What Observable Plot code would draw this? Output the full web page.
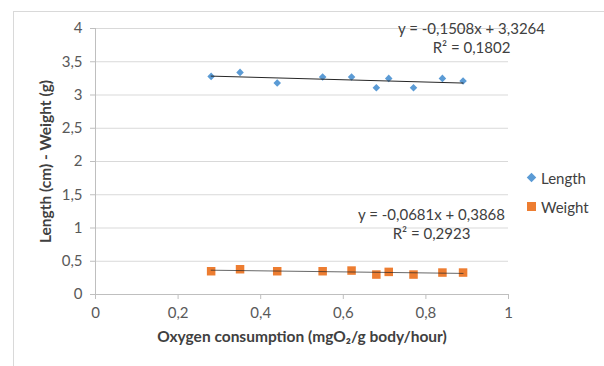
<!DOCTYPE html>
<html>
<head>
<meta charset="utf-8">
<script src="https://cdn.jsdelivr.net/npm/d3@7"></script>
<script src="https://cdn.jsdelivr.net/npm/@observablehq/plot@0.6"></script>
<style>
  html, body { margin: 0; padding: 0; background: #fff; }
  #wrap { position: relative; width: 604px; height: 366px; overflow: hidden; font-family: Lato, "Open Sans", sans-serif; }
  #frame { position: absolute; left: 13px; top: 11px; width: 700px; height: 500px; border-top: 1.5px solid #d9d9d9; border-left: 1.5px solid #d9d9d9; }
  #chart { position: absolute; left: 0; top: 0; }
  #legend { position: absolute; left: 527px; top: 163px; font-size: 15px; color: #404040; }
  #legend .item { display: flex; align-items: center; height: 29px; }
  #legend .sym { width: 9px; height: 9px; margin-right: 5px; }
  g[aria-label="y-axis label"], g[aria-label="x-axis label"] { font-weight: bold; font-size: 15.5px; }
  g[aria-label="y-axis label"] text, g[aria-label="x-axis label"] text { fill: #404040; }
</style>
</head>
<body>
<div id="wrap">
  <div id="frame"></div>
  <div id="chart"></div>
  <div id="legend"></div>
</div>
<script>
const oxygen = [0.28, 0.35, 0.44, 0.55, 0.62, 0.68, 0.71, 0.77, 0.84, 0.89];
const lengthCm = [3.28, 3.34, 3.18, 3.27, 3.27, 3.11, 3.25, 3.11, 3.25, 3.21];
const weightG = [0.35, 0.38, 0.35, 0.35, 0.36, 0.30, 0.34, 0.30, 0.33, 0.33];
const seriesNames = ["Length", "Weight"];
const seriesColors = ["#5b9bd5", "#ed7d31"];
const xTicks = [0, 0.2, 0.4, 0.6, 0.8, 1];
const yTicks = [0, 0.5, 1, 1.5, 2, 2.5, 3, 3.5, 4];
const lengthEquation = ["y = -0,1508x + 3,3264", "R² = 0,1802"];
const weightEquation = ["y = -0,0681x + 0,3868", "R² = 0,2923"];

const lengthData = oxygen.map((x, i) => ({x, y: lengthCm[i]}));
const weightData = oxygen.map((x, i) => ({x, y: weightG[i]}));
const comma = d => String(d).replace(".", ",");

const chart = Plot.plot({
  width: 604,
  height: 366,
  marginLeft: 95,
  marginRight: 96,
  marginTop: 28,
  marginBottom: 72,
  style: {fontFamily: "Lato, 'Open Sans', sans-serif", fontSize: "15px", color: "#595959", background: "transparent", overflow: "visible"},
  x: {domain: [0, 1]},
  y: {domain: [0, 4]},
  marks: [
    Plot.gridY(yTicks, {stroke: "#d9d9d9", strokeOpacity: 1}),
    Plot.ruleX([0], {stroke: "#bfbfbf"}),
    Plot.ruleY([0], {stroke: "#bfbfbf"}),
    Plot.axisY(yTicks, {tickSize: 5, tickPadding: 8, stroke: "#bfbfbf", tickFormat: comma, fill: "#595959",
      label: "Length (cm) - Weight (g)", labelAnchor: "center", labelArrow: "none", labelOffset: 56}),
    Plot.axisX(xTicks, {tickSize: 5, tickPadding: 8, stroke: "#bfbfbf", tickFormat: comma, fill: "#595959",
      label: "Oxygen consumption (mgO₂/g body/hour)", labelAnchor: "center", labelArrow: "none", labelOffset: 47}),
    Plot.dot(lengthData, {x: "x", y: "y", symbol: "diamond2", r: 3.4, fill: seriesColors[0], stroke: "none"}),
    Plot.dot(weightData, {x: "x", y: "y", symbol: "square", r: 4.8, fill: seriesColors[1], stroke: "none"}),
    Plot.linearRegressionY(lengthData, {x: "x", y: "y", ci: 0, stroke: "#262626", strokeWidth: 1}),
    Plot.linearRegressionY(weightData, {x: "x", y: "y", ci: 0, stroke: "#262626", strokeWidth: 1, strokeOpacity: 0.7}),
    Plot.text([lengthEquation.join("\n")], {text: d => d, frameAnchor: "top-right", dx: -37, dy: 9,
      textAnchor: "middle", lineAnchor: "middle", lineHeight: 1.3, fill: "#404040", fontSize: 15}),
    Plot.text([weightEquation.join("\n")], {text: d => d, frameAnchor: "top-right", dx: -77, dy: 195,
      textAnchor: "middle", lineAnchor: "middle", lineHeight: 1.3, fill: "#404040", fontSize: 15})
  ]
});
document.getElementById("chart").appendChild(chart);

const legend = document.getElementById("legend");
seriesNames.forEach((name, i) => {
  const item = document.createElement("div");
  item.className = "item";
  const sym = document.createElement("div");
  sym.className = "sym";
  sym.style.background = seriesColors[i];
  if (i === 0) { sym.style.transform = "rotate(45deg) scale(0.75)"; }
  item.appendChild(sym);
  const label = document.createElement("span");
  label.textContent = name;
  item.appendChild(label);
  legend.appendChild(item);
});
</script>
</body>
</html>
